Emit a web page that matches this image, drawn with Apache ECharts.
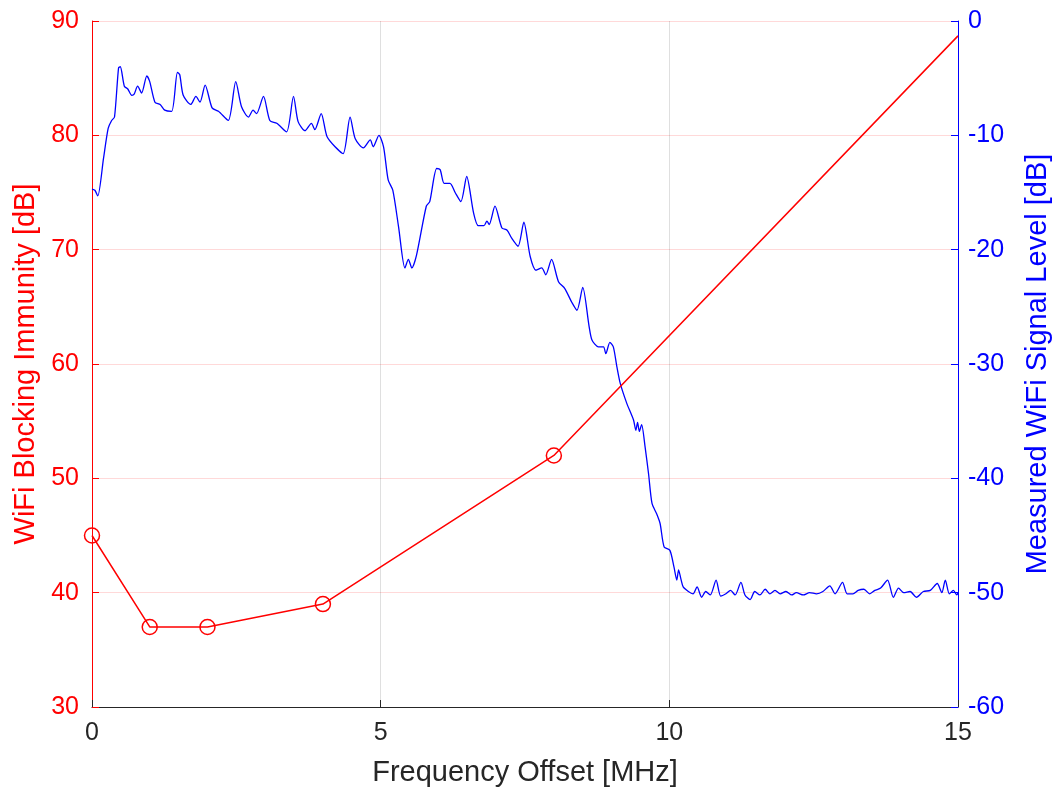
<!DOCTYPE html>
<html>
<head>
<meta charset="utf-8">
<script src="https://cdn.jsdelivr.net/npm/echarts@6/dist/echarts.min.js"></script>
<style>
  html, body { margin: 0; padding: 0; background: #fff; }
  #chart { width: 1057px; height: 794px; }
</style>
</head>
<body>
<div id="chart"></div>
<script>
// Blocking immunity measured at discrete offsets [MHz, dB]
const immunityOffsets = [0, 1, 2, 4, 8, 15];
const immunityValues  = [45, 37, 37, 39, 52, 88.7];
// Offsets where a measurement marker is drawn (the last point only extends the line)
const immunityMarked  = [true, true, true, true, true, false];

// Measured WiFi spectrum [MHz, dB]
const signalOffsets = [
  0, 0.05, 0.1, 0.2, 0.28, 0.34, 0.39, 0.46, 0.49, 0.56, 0.62, 0.69, 0.73, 0.79, 0.86, 0.95,
  1.0, 1.09, 1.18, 1.26, 1.38, 1.48, 1.52, 1.58, 1.71, 1.8, 1.87, 1.96, 2.08, 2.19, 2.36, 2.49,
  2.59, 2.71, 2.79, 2.85, 2.97, 3.08, 3.2, 3.37, 3.49, 3.57, 3.69, 3.8, 3.86, 3.97, 4.07, 4.21,
  4.35, 4.47, 4.56, 4.70, 4.82, 4.87, 4.97, 5.05, 5.13, 5.21, 5.31, 5.42, 5.48, 5.54, 5.62, 5.79,
  5.85, 5.97, 6.03, 6.10, 6.20, 6.29, 6.39, 6.49, 6.61, 6.69, 6.79, 6.84, 6.88, 6.98, 7.10, 7.19,
  7.27, 7.38, 7.48, 7.59, 7.69, 7.79, 7.86, 7.96, 8.08, 8.19, 8.31, 8.40, 8.50, 8.61, 8.66, 8.77,
  8.86, 8.90, 8.97, 9.03, 9.09, 9.15, 9.26, 9.38, 9.42, 9.45, 9.48, 9.52, 9.58, 9.64, 9.70, 9.78,
  9.84, 9.91, 10.01, 10.08, 10.13, 10.16, 10.2, 10.24, 10.33, 10.41, 10.48, 10.56, 10.63, 10.71,
  10.81, 10.89, 10.98, 11.06, 11.14, 11.24, 11.31, 11.40, 11.48, 11.57, 11.66, 11.74, 11.83, 11.92,
  12.02, 12.12, 12.20, 12.32, 12.43, 12.55, 12.66, 12.78, 12.87, 13.00, 13.08, 13.18, 13.27, 13.37,
  13.47, 13.56, 13.66, 13.78, 13.88, 13.97, 14.06, 14.17, 14.28, 14.40, 14.52, 14.64, 14.72, 14.78,
  14.85, 14.92, 14.98, 15.0
];
const signalLevels = [
  -14.7, -14.8, -15.3, -12.0, -9.4, -8.7, -8.4, -4.1, -4.0, -5.7, -5.95, -6.5, -6.4, -5.7, -6.3, -4.8,
  -5.3, -7.1, -7.3, -7.8, -7.9, -4.5, -4.7, -6.5, -7.3, -6.6, -7.1, -5.6, -7.6, -7.9, -8.7, -5.3,
  -7.5, -8.4, -7.8, -8.1, -6.6, -8.7, -8.95, -9.7, -6.6, -8.8, -9.6, -8.95, -9.5, -8.1, -10.1, -11.0,
  -11.6, -8.4, -10.3, -11.1, -10.4, -11.0, -10.0, -11.0, -13.9, -14.8, -18.0, -21.6, -20.85, -21.6, -20.5, -16.2,
  -15.8, -12.9, -13.0, -14.2, -14.2, -15.0, -15.8, -13.6, -16.8, -17.9, -17.9, -17.5, -17.8, -16.2, -18.1, -18.3,
  -19.0, -19.7, -17.6, -20.6, -21.8, -21.6, -22.2, -20.85, -22.8, -23.4, -24.6, -25.3, -23.3, -26.7, -27.9, -28.5,
  -28.5, -29.1, -28.1, -28.5, -30.2, -31.7, -33.4, -34.9, -35.8, -35.1, -35.9, -35.3, -37.25, -39.6, -42.2, -43.1,
  -43.95, -46.0, -46.3, -47.75, -48.9, -48.0, -48.8, -49.5, -49.9, -50.1, -49.5, -50.4, -49.9, -50.2,
  -48.9, -50.3, -50.1, -49.8, -50.2, -49.1, -50.2, -50.6, -49.9, -50.2, -49.7, -50.1, -49.8, -50.1,
  -49.9, -50.2, -50.0, -50.2, -50.0, -50.1, -49.9, -49.4, -50.1, -49.1, -50.1, -50.1, -49.8, -49.7,
  -50.1, -49.8, -49.6, -48.9, -50.4, -49.6, -50.0, -49.9, -50.4, -49.9, -49.8, -49.2, -50.0, -48.9,
  -50.1, -49.8, -50.2, -50.0
];

const xTicks = [0, 5, 10, 15];
const leftTicks = [30, 40, 50, 60, 70, 80, 90];
const rightTicks = [-60, -50, -40, -30, -20, -10, 0];

const RED = '#ff0000';
const BLUE = '#0000ff';
const DARK = '#262626';
const FONT = '"Liberation Sans", Arial, Helvetica, sans-serif';
const TICK_SIZE = 25;
const TITLE_SIZE = 29;

const chart = echarts.init(document.getElementById('chart'), null, { renderer: 'canvas' });

const immunityData = immunityOffsets.map((x, i) => ({
  value: [x, immunityValues[i]],
  symbol: immunityMarked[i] ? 'circle' : 'none'
}));
const signalData = signalOffsets.map((x, i) => [x, signalLevels[i]]);

chart.setOption({
  animation: false,
  backgroundColor: '#ffffff',
  grid: {
    left: 92, right: 99, top: 21, bottom: 87,
    containLabel: false,
    outerBoundsMode: 'none'
  },
  xAxis: {
    type: 'value',
    min: xTicks[0], max: xTicks[xTicks.length - 1], interval: 5,
    name: 'Frequency Offset [MHz]',
    nameLocation: 'middle', nameGap: 51,
    nameTextStyle: { color: DARK, fontSize: TITLE_SIZE, fontFamily: FONT },
    axisLine: { onZero: false, lineStyle: { color: DARK, width: 1 } },
    axisTick: { inside: true, length: 7, lineStyle: { color: DARK } },
    axisLabel: { color: DARK, fontSize: TICK_SIZE, fontFamily: FONT, margin: 14 },
    splitLine: { show: true, lineStyle: { color: 'rgba(38,38,38,0.15)', width: 1 } }
  },
  yAxis: [
    {
      type: 'value', position: 'left',
      min: leftTicks[0], max: leftTicks[leftTicks.length - 1], interval: 10,
      name: 'WiFi Blocking Immunity [dB]',
      nameLocation: 'middle', nameGap: 50, nameRotate: 90,
      nameTextStyle: { color: RED, fontSize: TITLE_SIZE, fontFamily: FONT },
      axisLine: { show: true, onZero: false, lineStyle: { color: RED, width: 1 } },
      axisTick: { show: true, inside: true, length: 7, lineStyle: { color: RED } },
      axisLabel: { color: RED, fontSize: TICK_SIZE, fontFamily: FONT, margin: 13 },
      splitLine: { show: true, lineStyle: { color: 'rgba(255,0,0,0.15)', width: 1 } }
    },
    {
      type: 'value', position: 'right',
      min: rightTicks[0], max: rightTicks[rightTicks.length - 1], interval: 10,
      name: 'Measured WiFi Signal Level [dB]',
      nameLocation: 'middle', nameGap: 65, nameRotate: 90,
      nameTextStyle: { color: BLUE, fontSize: TITLE_SIZE, fontFamily: FONT },
      axisLine: { show: true, onZero: false, lineStyle: { color: BLUE, width: 1 } },
      axisTick: { show: true, inside: true, length: 7, lineStyle: { color: BLUE } },
      axisLabel: { color: BLUE, fontSize: TICK_SIZE, fontFamily: FONT, margin: 10 },
      splitLine: { show: false }
    }
  ],
  series: [
    {
      name: 'Blocking immunity',
      type: 'line',
      yAxisIndex: 0,
      data: immunityData,
      symbolSize: 15,
      showAllSymbol: true,
      lineStyle: { color: RED, width: 1.5 },
      itemStyle: { color: 'rgba(255,255,255,0)', borderColor: RED, borderWidth: 1.5 },
      z: 3
    },
    {
      name: 'Signal level',
      type: 'line',
      yAxisIndex: 1,
      data: signalData,
      showSymbol: false,
      smooth: 0.25,
      lineStyle: { color: BLUE, width: 1.3 },
      z: 2
    }
  ]
});
</script>
</body>
</html>
